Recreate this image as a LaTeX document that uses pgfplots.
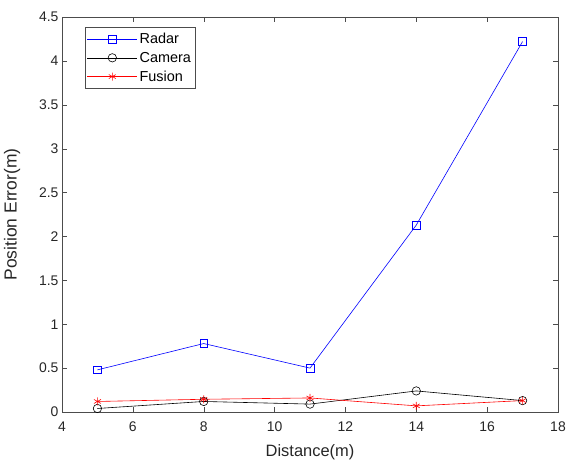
\documentclass[border=0pt]{standalone}
\usepackage{fontspec}
\setmainfont{Liberation Sans}
\usepackage{pgfplots}
\pgfplotsset{compat=1.18}

\begin{document}
\begin{tikzpicture}
\begin{axis}[
    width=496bp, height=395bp,
    scale only axis,
    xmin=4, xmax=18,
    ymin=0, ymax=4.5,
    xtick={4,6,8,10,12,14,16,18},
    ytick={0,0.5,1,1.5,2,2.5,3,3.5,4,4.5},
    yticklabels={0,0.5,1,1.5,2,2.5,3,3.5,4,4.5},
    tick align=inside,
    major tick length=5bp,
    axis line style={black!70},
    tick style={black!70},
    xlabel={Distance(m)},
    ylabel={Position Error(m)},
    tick label style={font=\fontsize{14}{16}\selectfont, text=black!85},
    xticklabel style={yshift=-6bp},
    /pgf/number format/assume math mode=true,
    xlabel style={font=\fontsize{16.5}{18}\selectfont, text=black!85, yshift=-6bp},
    ylabel style={font=\fontsize{17.5}{20}\selectfont, text=black!85, yshift=12bp},
    legend style={at={(0.046,0.975)}, anchor=north west, draw=black!70,
        font=\fontsize{14.5}{16}\selectfont, row sep=3bp,
        inner xsep=2bp, inner ysep=4bp},
    legend cell align=left,
    legend image code/.code={
        \draw[#1] (0bp,0bp) -- (50bp,0bp);
        \draw[#1,only marks] plot coordinates {(25bp,0bp)};
    },
    every axis plot/.append style={line width=0.6bp},
]
\addplot[blue, mark=square, mark size=3.8bp] coordinates {
    (5,0.48) (8,0.78) (11,0.50) (14,2.13) (17,4.22)
};
\addplot[black, mark=o, mark size=4.2bp] coordinates {
    (5,0.04) (8,0.12) (11,0.09) (14,0.24) (17,0.13)
};
\addplot[red, mark=asterisk, mark size=4bp] coordinates {
    (5,0.12) (8,0.145) (11,0.16) (14,0.07) (17,0.13)
};
\legend{Radar, Camera, Fusion}
\coordinate (bl) at (rel axis cs:0,0);
\end{axis}
\pgfresetboundingbox
\path (bl) ++(-62bp,-50bp) rectangle ++(576bp,462bp);
\end{tikzpicture}
\end{document}
